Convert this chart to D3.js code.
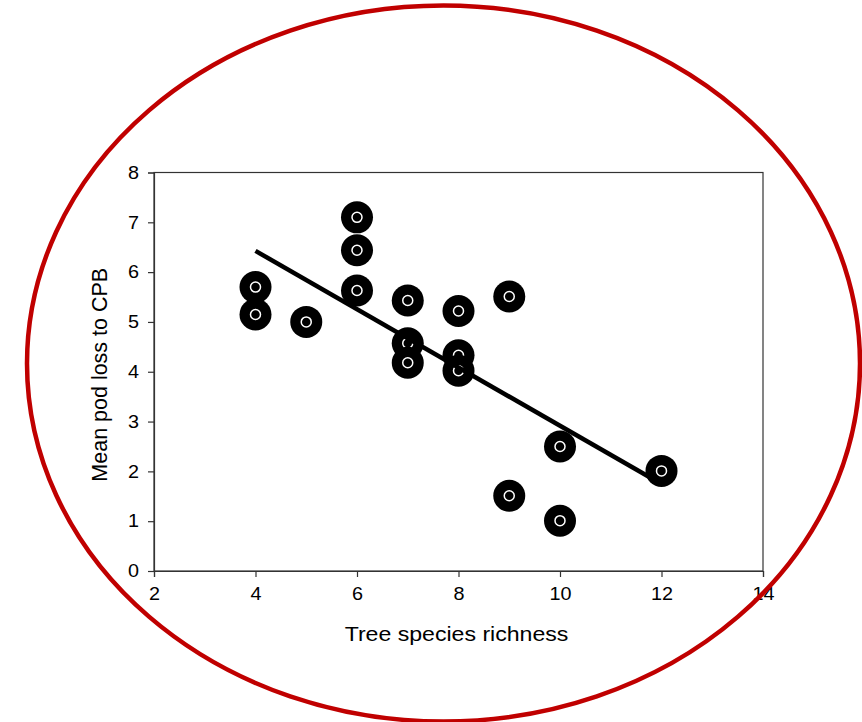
<!DOCTYPE html>
<html>
<head>
<meta charset="utf-8">
<script src="https://cdn.jsdelivr.net/npm/d3@7"></script>
<style>
  body { margin: 0; background: #fff; }
  svg text { font-family: "Liberation Sans", Arial, sans-serif; fill: #000; }
</style>
</head>
<body>
<div id="canvas"></div>
<script>
// species richness per plot and mean pod loss
const richness = [4, 4, 5, 6, 6, 6, 7, 7, 7, 8, 8, 8, 9, 9, 10, 10, 12];
const podLoss  = [5.70, 5.15, 5.00, 7.10, 6.44, 5.63, 5.43, 4.57, 4.18, 5.22, 4.33, 4.02, 5.51, 1.51, 2.50, 1.01, 2.01];
const xTicks = [2, 4, 6, 8, 10, 12, 14];
const yTicks = [0, 1, 2, 3, 4, 5, 6, 7, 8];

const w = 862, h = 722;
const margin = { top: 172.5, right: 99, bottom: 151, left: 154 };
const width = w - margin.left - margin.right;
const height = h - margin.top - margin.bottom;
const stretch = 1.1;   // text is drawn a little wide

const svg = d3.select("#canvas").append("svg")
  .attr("width", w).attr("height", h);

const chart = svg.append("g")
  .attr("transform", "translate(" + margin.left + "," + margin.top + ")");

const x = d3.scaleLinear().domain([2, 14]).range([0, width]);
const y = d3.scaleLinear().domain([0, 8]).range([height, 0]);

// frame
chart.append("rect")
  .attr("width", width).attr("height", height)
  .attr("fill", "none").attr("stroke", "#333").attr("stroke-width", 1.2);

const xAxis = chart.append("g")
  .attr("transform", "translate(0," + height + ")")
  .call(d3.axisBottom(x).tickValues(xTicks).tickSize(6).tickPadding(10));
const yAxis = chart.append("g")
  .call(d3.axisLeft(y).tickValues(yTicks).tickSize(6).tickPadding(9));

[xAxis, yAxis].forEach(function(a){
  a.select(".domain").attr("stroke", "#333").attr("stroke-width", 1.2);
  a.selectAll(".tick line").attr("stroke", "#333").attr("stroke-width", 1.2);
  a.selectAll("text").style("font-size", "18px").attr("fill", "#000")
    .style("font-family", "'Liberation Sans', Arial, sans-serif");
});
xAxis.selectAll("text").attr("transform", "scale(" + stretch + ",1)");
yAxis.selectAll("text")
  .attr("x", -15 / stretch)
  .attr("transform", "scale(" + stretch + ",1)");

// axis titles
chart.append("text")
  .attr("transform", "translate(" + (x(8) - 2) + "," + (height + 70) + ") scale(" + stretch + ",1)")
  .attr("text-anchor", "middle")
  .style("font-size", "21px")
  .text("Tree species richness");

chart.append("text")
  .attr("transform", "translate(-47," + (height / 2 + 3) + ") rotate(-90) scale(1,1.05)")
  .attr("text-anchor", "middle")
  .style("font-size", "21.5px")
  .text("Mean pod loss to CPB");

// points: black disc with a small white ring
const pts = richness.map(function(r, i){ return { x: r, y: podLoss[i] }; });
const marks = chart.selectAll(".pt").data(pts).enter().append("g")
  .attr("class", "pt")
  .attr("transform", function(d){ return "translate(" + x(d.x) + "," + y(d.y) + ")"; });
marks.append("circle").attr("r", 16).attr("fill", "#000");
marks.append("circle").attr("r", 5).attr("fill", "none")
  .attr("stroke", "#fff").attr("stroke-width", 1.5);

// least squares fit over the observed range
const mx = d3.mean(richness), my = d3.mean(podLoss);
const sxy = d3.sum(pts, function(d){ return (d.x - mx) * (d.y - my); });
const sxx = d3.sum(pts, function(d){ return (d.x - mx) * (d.x - mx); });
const slope = sxy / sxx, icpt = my - slope * mx;
const ext = d3.extent(richness);
chart.append("line")
  .attr("x1", x(ext[0])).attr("y1", y(icpt + slope * ext[0]))
  .attr("x2", x(ext[1])).attr("y2", y(icpt + slope * ext[1]))
  .attr("stroke", "#000").attr("stroke-width", 4.5);

// red ellipse around the figure
svg.append("ellipse")
  .attr("cx", 443.5).attr("cy", 363.5)
  .attr("rx", 416.5).attr("ry", 358)
  .attr("fill", "none")
  .attr("stroke", "#c00000").attr("stroke-width", 4.5);
</script>
</body>
</html>
